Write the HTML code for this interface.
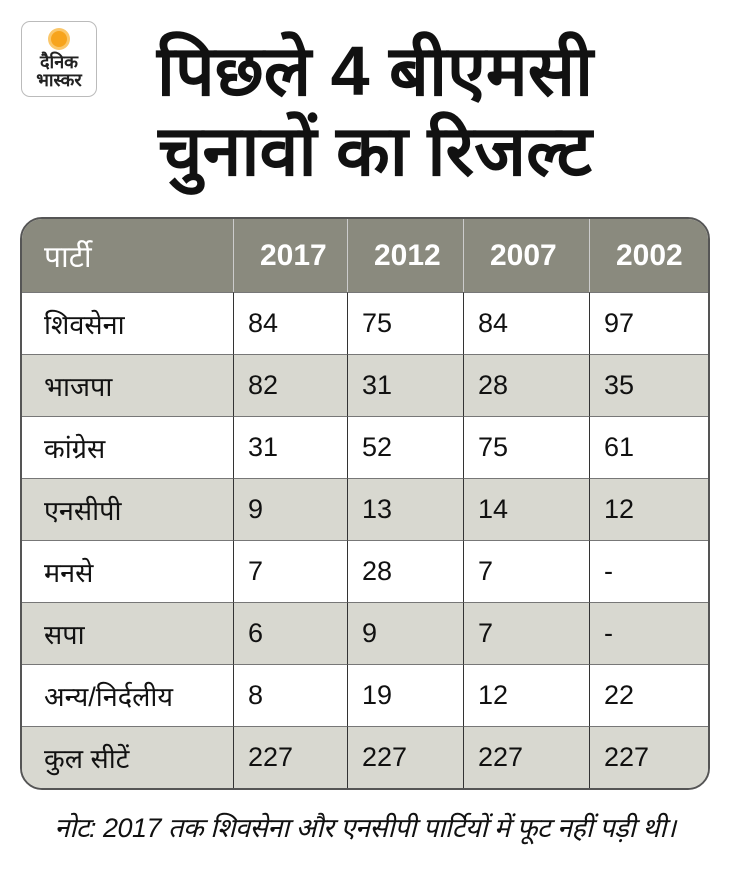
<!DOCTYPE html>
<html><head><meta charset="utf-8"><style>
body{margin:0;width:730px;height:870px;background:#fff;font-family:"Liberation Sans",sans-serif;position:relative;overflow:hidden}
.logo{position:absolute;left:21px;top:21px;width:76px;height:76px;border:1px solid #bbb;border-radius:9px;text-align:center;box-sizing:border-box}
.sun{width:16px;height:16px;border-radius:50%;background:#f7a41d;margin:9px auto 0;box-shadow:0 0 0 3px #fbc76a}
.logo div.t{font-weight:bold;font-size:18px;line-height:18px;color:#222}
.title{position:absolute;left:90px;width:570px;top:31px;text-align:center;font-weight:bold;font-size:70px;line-height:80px;color:#111}
table{position:absolute;left:20px;top:217px;width:690px;border-collapse:separate;border-spacing:0;border:2px solid #555;border-radius:22px;overflow:hidden;font-size:27px;color:#111}
td{height:62px;border-top:1px solid #777;border-left:1px solid #333;padding:0 0 0 14px;box-sizing:border-box}
td:first-child{border-left:none;padding-left:22px}
tr.h td{background:#8a8a7e;color:#fff;font-weight:bold;font-size:30px;height:73px;border-top:none;border-left-color:#ccc;padding-left:26px}
tr.h td:first-child{padding-left:22px;font-weight:normal}
tr.a td{background:#d8d8d0}
.note{position:absolute;left:0;width:730px;top:808px;text-align:center;font-size:27px;font-style:italic;color:#111;letter-spacing:-0.5px}
</style></head><body>
<div class="logo"><div class="sun"></div><div class="t" style="margin-top:6px">दैनिक</div><div class="t">भास्कर</div></div>
<div class="title">पिछले 4 बीएमसी<br>चुनावों का रिजल्ट</div>
<table>
<colgroup><col style="width:211px"><col style="width:114px"><col style="width:116px"><col style="width:126px"><col></colgroup>
<tr class="h"><td>पार्टी</td><td>2017</td><td>2012</td><td>2007</td><td>2002</td></tr>
<tr><td>शिवसेना</td><td>84</td><td>75</td><td>84</td><td>97</td></tr>
<tr class="a"><td>भाजपा</td><td>82</td><td>31</td><td>28</td><td>35</td></tr>
<tr><td>कांग्रेस</td><td>31</td><td>52</td><td>75</td><td>61</td></tr>
<tr class="a"><td>एनसीपी</td><td>9</td><td>13</td><td>14</td><td>12</td></tr>
<tr><td>मनसे</td><td>7</td><td>28</td><td>7</td><td>-</td></tr>
<tr class="a"><td>सपा</td><td>6</td><td>9</td><td>7</td><td>-</td></tr>
<tr><td>अन्य/निर्दलीय</td><td>8</td><td>19</td><td>12</td><td>22</td></tr>
<tr class="a"><td>कुल सीटें</td><td>227</td><td>227</td><td>227</td><td>227</td></tr>
</table>
<div class="note">नोट: 2017 तक शिवसेना और एनसीपी पार्टियों में फूट नहीं पड़ी थी।</div>
</body></html>
